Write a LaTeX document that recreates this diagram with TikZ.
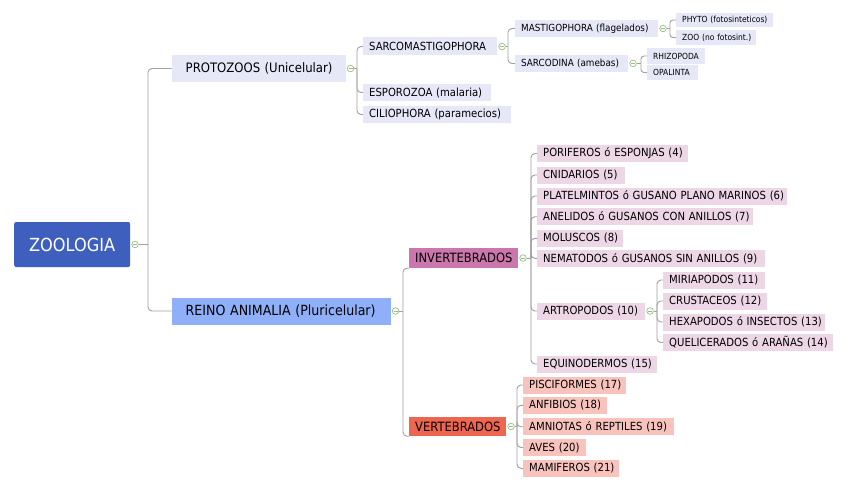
\documentclass[tikz,border=0pt]{standalone}
\usepackage{fontspec}
\setmainfont{DejaVu Sans}[FakeStretch=0.9]
\usetikzlibrary{positioning}

\definecolor{azulRaiz}{RGB}{63,95,191}
\definecolor{azulReino}{RGB}{143,176,248}
\definecolor{lilaProto}{RGB}{230,232,248}
\definecolor{rosaInv}{RGB}{203,118,172}
\definecolor{rojoVert}{RGB}{238,102,80}
\definecolor{rosaClaro}{RGB}{237,214,230}
\definecolor{salmonClaro}{RGB}{247,195,188}
\definecolor{gris}{RGB}{160,160,160}
\definecolor{verdeBoton}{RGB}{150,192,125}

\tikzset{
  caja/.style={anchor=west, inner xsep=6pt, inner ysep=0pt, text=black,
    execute at begin node=\hbox\bgroup, execute at end node=\egroup},
  ancho/.code={\pgfmathsetlengthmacro\anchoTexto{#1-12pt}\tikzset{text width=\anchoTexto}},
  anchoUno/.code={\pgfmathsetlengthmacro\anchoTexto{#1-28pt}\tikzset{text width=\anchoTexto, inner xsep=14pt}},
  raiz/.style={anchor=west, inner sep=0pt, fill=azulRaiz, text=white, rounded corners=2pt,
    font=\fontsize{18}{20}\selectfont, minimum height=45pt},
  nivelUno/.style={caja, font=\fontsize{13}{15}\selectfont, minimum height=27pt},
  nivelDos/.style={caja, fill=lilaProto, font=\fontsize{11.2}{13}\selectfont, minimum height=17pt},
  nivelTres/.style={caja, fill=lilaProto, font=\fontsize{9.8}{12}\selectfont, minimum height=17pt},
  nivelCuatro/.style={caja, fill=lilaProto, font=\fontsize{8.4}{10}\selectfont, minimum height=15pt},
  grupo/.style={caja, font=\fontsize{12.8}{15}\selectfont, minimum height=20pt},
  hojaInv/.style={caja, fill=rosaClaro, font=\fontsize{11.2}{13}\selectfont, minimum height=17pt},
  hojaVert/.style={caja, fill=salmonClaro, font=\fontsize{11.2}{13}\selectfont, minimum height=17pt},
  enlace/.style={draw=gris, line width=0.9pt, rounded corners=4pt},
  boton/.style={circle, draw=verdeBoton, fill=white, line width=0.7pt, inner sep=0pt,
    minimum size=6.6pt, right=1pt of #1,
    path picture={\draw[verdeBoton, line width=0.6pt]
      ([xshift=-2pt]path picture bounding box.center) -- ([xshift=2pt]path picture bounding box.center);}}
}

\begin{document}
\begin{tikzpicture}[x=1pt, y=-1pt]
  \useasboundingbox (0,0) rectangle (848,487);
  \fill[white] (0,0) rectangle (848,487);

  % Raiz
  \node[raiz, minimum width=116pt] (zoo) at (14,244.5) {ZOOLOGIA};

  % Primer nivel
  \node[nivelUno, fill=lilaProto, anchoUno=174pt] (proto) at (171.5,68.5) {PROTOZOOS (Unicelular)};
  \node[nivelUno, fill=azulReino, anchoUno=219pt, font=\fontsize{14}{16}\selectfont] (reino) at (171.5,311) {REINO ANIMALIA (Pluricelular)};

  % Protozoos
  \node[nivelDos, ancho=134pt, minimum height=18pt] (sarco) at (363,46.5) {SARCOMASTIGOPHORA};
  \node[nivelDos, ancho=128pt] (esporo) at (363,92.5) {ESPOROZOA (malaria)};
  \node[nivelDos, ancho=148pt] (cilio) at (363,114.5) {CILIOPHORA (paramecios)};
  \node[nivelTres, ancho=143pt] (masti) at (515,28.5) {MASTIGOPHORA (flagelados)};
  \node[nivelTres, ancho=113pt] (sarcod) at (515,63.5) {SARCODINA (amebas)};
  \node[nivelCuatro, ancho=97pt, minimum height=14pt] (phyto) at (676,20) {PHYTO (fotosinteticos)};
  \node[nivelCuatro, ancho=80pt] (zooflag) at (676,37.5) {ZOO (no fotosint.)};
  \node[nivelCuatro, ancho=58pt, minimum height=16pt] (rhizo) at (647,56) {RHIZOPODA};
  \node[nivelCuatro, ancho=51pt] (opal) at (647,72.5) {OPALINTA};

  % Reino animalia
  \node[grupo, fill=rosaInv, ancho=109pt] (inv) at (409,258) {INVERTEBRADOS};
  \node[grupo, fill=rojoVert, ancho=97pt, minimum height=19pt] (vert) at (409,426.5) {VERTEBRADOS};

  % Invertebrados
  \node[hojaInv, ancho=151pt] (porif) at (537,153.5) {PORIFEROS ó ESPONJAS (4)};
  \node[hojaInv, ancho=88pt] (cnid) at (537,175) {CNIDARIOS (5)};
  \node[hojaInv, ancho=250pt] (platel) at (537,196) {PLATELMINTOS ó GUSANO PLANO MARINOS (6)};
  \node[hojaInv, ancho=216pt] (anel) at (537,216.7) {ANELIDOS ó GUSANOS CON ANILLOS (7)};
  \node[hojaInv, ancho=86pt] (molus) at (537,238.3) {MOLUSCOS (8)};
  \node[hojaInv, ancho=228pt] (nemat) at (537,258.3) {NEMATODOS ó GUSANOS SIN ANILLOS (9)};
  \node[hojaInv, ancho=108pt] (artro) at (537,311) {ARTROPODOS (10)};
  \node[hojaInv, ancho=120pt] (equi) at (537,364) {EQUINODERMOS (15)};
  \node[hojaInv, ancho=102pt] (miria) at (663,280) {MIRIAPODOS (11)};
  \node[hojaInv, ancho=104pt] (crust) at (663,301) {CRUSTACEOS (12)};
  \node[hojaInv, ancho=162pt] (hexa) at (663,322) {HEXAPODOS ó INSECTOS (13)};
  \node[hojaInv, ancho=170pt] (queli) at (663,342.5) {QUELICERADOS ó ARAÑAS (14)};

  % Vertebrados
  \node[hojaVert, ancho=103pt] (pisci) at (523,385) {PISCIFORMES (17)};
  \node[hojaVert, ancho=84pt] (anfi) at (523,405.3) {ANFIBIOS (18)};
  \node[hojaVert, ancho=151pt] (amni) at (523,426.7) {AMNIOTAS ó REPTILES (19)};
  \node[hojaVert, ancho=63pt] (aves) at (523,447.5) {AVES (20)};
  \node[hojaVert, ancho=96pt] (mami) at (523,468.3) {MAMIFEROS (21)};

  % Botones de plegado
  \node[boton=zoo] (bZoo) {};
  \node[boton=proto] (bProto) {};
  \node[boton=reino] (bReino) {};
  \node[boton=sarco] (bSarco) {};
  \node[boton=masti] (bMasti) {};
  \node[boton=sarcod] (bSarcod) {};
  \node[boton=inv] (bInv) {};
  \node[boton=artro] (bArtro) {};
  \node[boton=vert] (bVert) {};

  % Ramas
  \coordinate (rZoo) at (148,244.5);
  \coordinate (rProto) at (357,68.5);
  \coordinate (rSarco) at (508,46.5);
  \coordinate (rMasti) at (670,28.5);
  \coordinate (rSarcod) at (641,63.5);
  \coordinate (rReino) at (403,311);
  \coordinate (rInv) at (531,258);
  \coordinate (rArtro) at (657,311);
  \coordinate (rVert) at (517,426.5);

  \draw[enlace] (bZoo) -- (rZoo);
  \foreach \h in {proto,reino} \draw[enlace] (rZoo) |- (\h.west);
  \draw[enlace] (bProto) -- (rProto);
  \foreach \h in {sarco,esporo,cilio} \draw[enlace] (rProto) |- (\h.west);
  \draw[enlace] (bSarco) -- (rSarco);
  \foreach \h in {masti,sarcod} \draw[enlace] (rSarco) |- (\h.west);
  \draw[enlace] (bMasti) -- (rMasti);
  \foreach \h in {phyto,zooflag} \draw[enlace, rounded corners=3pt] (rMasti) |- (\h.west);
  \draw[enlace] (bSarcod) -- (rSarcod);
  \foreach \h in {rhizo,opal} \draw[enlace, rounded corners=3pt] (rSarcod) |- (\h.west);
  \draw[enlace] (bReino) -- (rReino);
  \foreach \h in {inv,vert} \draw[enlace] (rReino) |- (\h.south west);
  \draw[enlace] (bInv) -- (rInv);
  \foreach \h in {porif,cnid,platel,anel,molus,nemat,artro,equi} \draw[enlace] (rInv) |- (\h.west);
  \draw[enlace] (bArtro) -- (rArtro);
  \foreach \h in {miria,crust,hexa,queli} \draw[enlace] (rArtro) |- (\h.west);
  \draw[enlace] (bVert) -- (rVert);
  \foreach \h in {pisci,anfi,amni,aves,mami} \draw[enlace] (rVert) |- (\h.west);
\end{tikzpicture}
\end{document}
